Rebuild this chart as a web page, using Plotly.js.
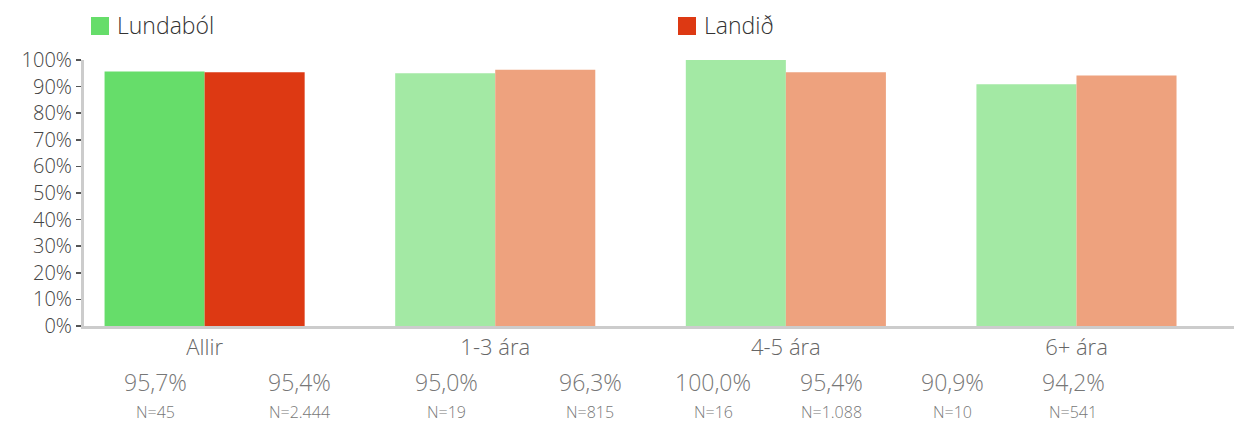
<!DOCTYPE html>
<html>
<head>
<meta charset="utf-8">
<script src="https://cdn.plot.ly/plotly-3.0.1.min.js"></script>
<style>html,body{margin:0;padding:0;background:#fff;}#chart{width:1234px;height:423px;}</style>
</head>
<body>
<div id="chart"></div>
<script>
// ---- data ----
const categories = ['Allir', '1-3 ára', '4-5 ára', '6+ ára'];
const seriesNames = ['Lundaból', 'Landið'];
const lundabolValues = [95.7, 95.0, 100.0, 90.9];
const landidValues = [95.4, 96.3, 95.4, 94.2];
const lundabolN = ['45', '19', '16', '10'];
const landidN = ['2.444', '815', '1.088', '541'];

// ---- styles / layout constants ----
const W = 1234, H = 423;
const M = {l: 84, r: 0, t: 60, b: 97};
const plotW = W - M.l - M.r;
const plotH = H - M.t - M.b;
const lundabolColors = ['#66DD6A', '#A3E9A4', '#A3E9A4', '#A3E9A4'];
const landidColors = ['#DD3913', '#EEA27E', '#EEA27E', '#EEA27E'];
const legendColors = ['#66DD6A', '#DD3913'];
const labelPx = [155, 299, 446, 590, 713, 831, 952, 1073];
const FONT = '"Open Sans", Lato, sans-serif';
const WT = 300;

function fmt(v) { return v.toFixed(1).replace('.', ',') + '%'; }

const traces = [
  {type: 'bar', name: seriesNames[0], x: categories, y: lundabolValues,
   marker: {color: lundabolColors}, showlegend: false, hoverinfo: 'none'},
  {type: 'bar', name: seriesNames[1], x: categories, y: landidValues,
   marker: {color: landidColors}, showlegend: false, hoverinfo: 'none'}
];

const annotations = [];
const shapes = [];
categories.forEach((c, i) => {
  const pairs = [[lundabolValues[i], lundabolN[i]], [landidValues[i], landidN[i]]];
  pairs.forEach((p, j) => {
    const px = labelPx[i * 2 + j];
    const xp = (px - M.l) / plotW;
    annotations.push({xref: 'paper', yref: 'paper', x: xp, y: -(382 - (H - M.b)) / plotH,
      text: fmt(p[0]), showarrow: false, xanchor: 'center', yanchor: 'middle',
      font: {family: FONT, size: 23, color: '#777', weight: WT}});
    annotations.push({xref: 'paper', yref: 'paper', x: xp, y: -(412 - (H - M.b)) / plotH,
      text: 'N=' + p[1], showarrow: false, xanchor: 'center', yanchor: 'middle',
      font: {family: FONT, size: 16, color: '#777', weight: WT}});
  });
});

// manual legend
const legendX = [91, 678];
seriesNames.forEach((n, i) => {
  shapes.push({type: 'rect', xref: 'paper', yref: 'paper',
    x0: (legendX[i] - M.l) / plotW, x1: (legendX[i] + 18 - M.l) / plotW,
    y0: 1 + (M.t - 35) / plotH, y1: 1 + (M.t - 17) / plotH,
    fillcolor: legendColors[i], line: {width: 0}});
  annotations.push({xref: 'paper', yref: 'paper',
    x: (legendX[i] + 24 - M.l) / plotW, y: 1 + (M.t - 25) / plotH,
    text: n, showarrow: false, xanchor: 'left', yanchor: 'middle',
    font: {family: FONT, size: 23, color: '#333', weight: WT}});
});

const layout = {
  width: W, height: H,
  margin: M,
  paper_bgcolor: '#fff', plot_bgcolor: '#fff',
  barmode: 'group', bargap: 0.3115, bargroupgap: 0,
  showlegend: false,
  font: {family: FONT},
  xaxis: {type: 'category', range: [-0.415, 3.542], showgrid: false, zeroline: false,
    showline: true, linecolor: '#ccc', linewidth: 3, ticks: '',
    tickfont: {family: FONT, size: 22, color: '#666', weight: WT}, fixedrange: true},
  yaxis: {range: [0, 100], dtick: 10, ticksuffix: '%', showgrid: false, zeroline: false,
    showline: true, linecolor: '#ccc', linewidth: 3, ticks: 'outside', ticklen: 5,
    tickcolor: '#555', tickwidth: 1.5,
    tickfont: {family: FONT, size: 20, color: '#444', weight: WT}, fixedrange: true},
  annotations: annotations,
  shapes: shapes
};

Plotly.newPlot('chart', traces, layout, {displayModeBar: false, staticPlot: true});
</script>
</body>
</html>
